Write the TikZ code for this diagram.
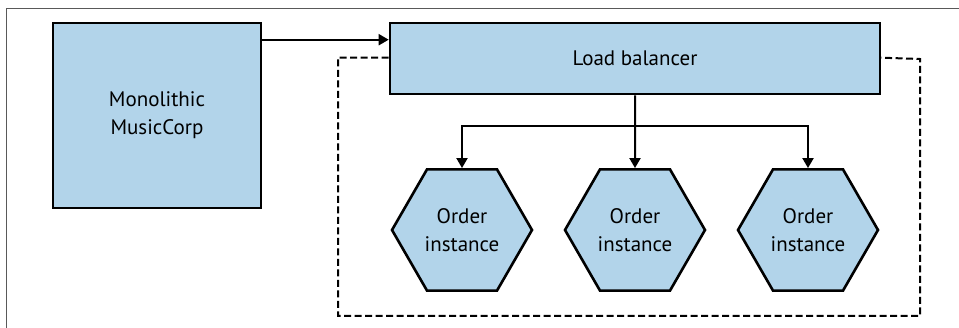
\documentclass[tikz,border=0pt]{standalone}
\usepackage{fontspec}
\setmainfont{PT Sans}
\usepackage{xcolor}
\usepackage{tikz}
\usetikzlibrary{arrows.meta,shapes.geometric}
\definecolor{boxblue}{HTML}{B2D4EA}

\begin{document}
\begin{tikzpicture}[
  x=1pt, y=-1pt,
  box/.style={draw=black, fill=boxblue, line width=2.6pt, align=center, inner sep=0pt, font=\fontsize{21}{28}\selectfont},
  hexa/.style={box, regular polygon, regular polygon sides=6, minimum size=140pt},
  arrow/.style={-{Triangle[length=10pt,width=11pt]}, draw=black, line width=2pt},
  group/.style={draw=black, line width=2pt, dash pattern=on 7pt off 3.5pt}
]
\useasboundingbox (0,0) rectangle (959,328);
% figure frame
\draw[black!65, line width=0.9pt] (6,332) -- (6,8) -- (963,8);
\node[box, minimum width=208pt, minimum height=185pt] (mono) at (157,115.5) {Monolithic\\MusicCorp};
\node[box, minimum width=490pt, minimum height=71pt] (lb) at (635,58.5) {Load balancer};
\node[hexa] (order1) at (462,230) {Order\\instance};
\node[hexa] (order2) at (635,230) {Order\\instance};
\node[hexa] (order3) at (808,230) {Order\\instance};
\coordinate (fork) at (635,126);
\coordinate (groupsw) at (338,316);
\coordinate (groupne) at (920,59);
\draw[arrow] ([yshift=-18pt]mono.north east) -- ([yshift=-18pt]lb.north west);
\draw[arrow] (lb.south) -- (order2.north);
\draw[arrow] (fork) -| (order1.north);
\draw[arrow] (fork) -| (order3.north);
\draw[group] ([yshift=-36pt]lb.north west) -| (groupsw) -| (groupne) -- ([yshift=-36pt]lb.north east);
\end{tikzpicture}
\end{document}
